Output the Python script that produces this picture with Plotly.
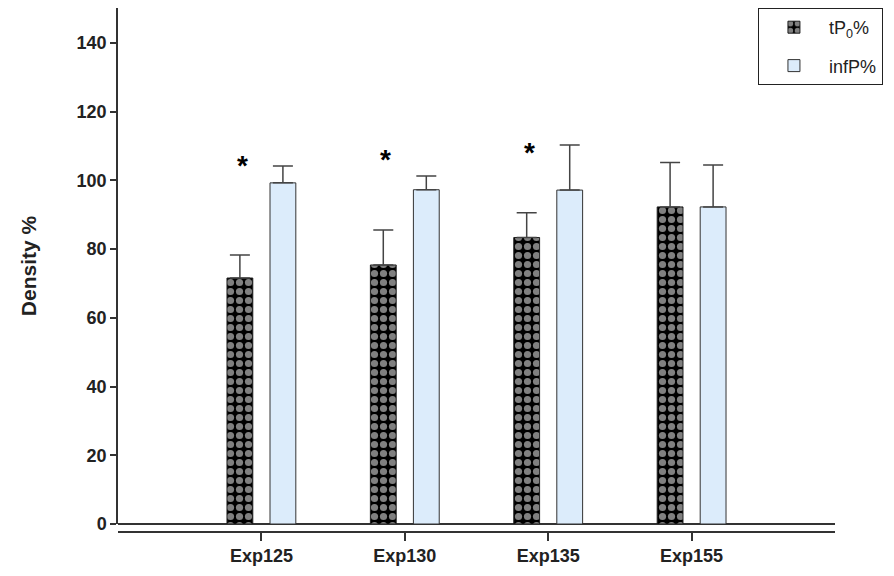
import plotly.graph_objects as go

categories = ["Exp125", "Exp130", "Exp135", "Exp155"]
tp0_values = [71.6, 75.4, 83.4, 92.3]
tp0_errors = [6.7, 10.2, 7.2, 12.9]
infp_values = [99.3, 97.3, 97.2, 92.3]
infp_errors = [4.9, 4.0, 13.1, 12.2]
star_categories = ["Exp125", "Exp130", "Exp135"]
star_y = [104.5, 106.0, 108.0]
y_ticks = [0, 20, 40, 60, 80, 100, 120, 140]

FONT = "Liberation Sans, Arial, sans-serif"

fig = go.Figure()
fig.add_trace(go.Bar(
    name="tP<sub>0</sub>%", legendgroup="a",
    x=categories, y=tp0_values,
    marker=dict(
        color="black",
        line=dict(color="#222222", width=1),
        pattern=dict(shape=".", fgcolor="white", bgcolor="black", size=9, solidity=0.5),
    ),
    error_y=dict(type="data", array=tp0_errors, arrayminus=[0] * 4, symmetric=False,
                 color="#444444", thickness=1.5, width=10),
))
fig.add_trace(go.Bar(
    name="infP%", legendgroup="b",
    x=categories, y=infp_values,
    marker=dict(color="#dcecfb", line=dict(color="#333333", width=1)),
    error_y=dict(type="data", array=infp_errors, arrayminus=[0] * 4, symmetric=False,
                 color="#444444", thickness=1.5, width=10),
))

for c, yv in zip(star_categories, star_y):
    fig.add_annotation(x=c, y=yv, text="<b>*</b>", showarrow=False, xshift=-19,
                       font=dict(family=FONT, size=28, color="black"))

fig.update_layout(
    width=894, height=576,
    margin=dict(l=108, r=59, t=8, b=44, autoexpand=False),
    paper_bgcolor="white", plot_bgcolor="white",
    barmode="group", bargap=0.4, bargroupgap=0.4,
    showlegend=True,
    legend=dict(x=0.894, y=1.0, xanchor="left", yanchor="top",
                bordercolor="#222222", borderwidth=1, bgcolor="white",
                font=dict(family=FONT, size=18, color="#222222"),
                itemwidth=60, entrywidth=146, tracegroupgap=12,
                traceorder="grouped"),
    font=dict(family=FONT, color="#222222"),
)
fig.update_xaxes(
    domain=[10 / 727, 1], range=[-1, 4],
    anchor="free", position=0, automargin=False,
    showline=True, linecolor="#333333", linewidth=1.5,
    ticks="outside", ticklen=8, tickcolor="#333333", tickwidth=1.5,
    tickfont=dict(family=FONT, size=18, color="#222222"),
    tickprefix="<b>", ticksuffix="</b>",
    showgrid=False, zeroline=False,
)
fig.update_yaxes(
    domain=[8 / 524, 1], range=[0, 150.2], automargin=False,
    tickvals=y_ticks, ticktext=[f"<b>{v}</b>" for v in y_ticks],
    showline=True, linecolor="#333333", linewidth=1.5,
    ticks="outside", ticklen=6, tickcolor="#333333", tickwidth=1.5,
    tickfont=dict(family=FONT, size=18, color="#222222"),
    showgrid=False,
    zeroline=True, zerolinecolor="#333333", zerolinewidth=1.5,
    title=dict(text="<b>Density %</b>", font=dict(family=FONT, size=21, color="#222222"), standoff=34),
)

fig.write_html("out.html", config={"displayModeBar": False},
               post_script="document.body.style.margin='0';")
